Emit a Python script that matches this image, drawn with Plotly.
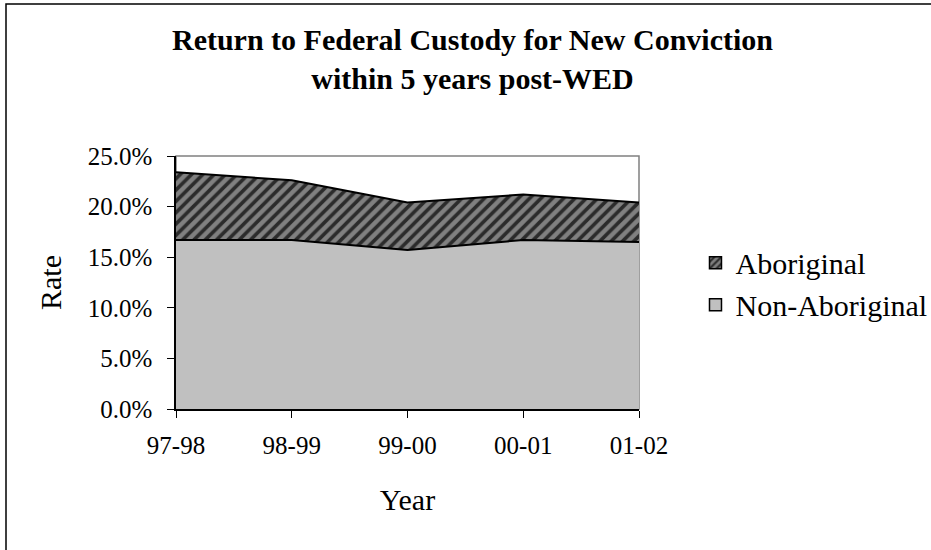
import plotly.graph_objects as go

years = ["97-98", "98-99", "99-00", "00-01", "01-02"]
aboriginal = [0.234, 0.226, 0.204, 0.212, 0.204]
non_aboriginal = [0.167, 0.167, 0.157, 0.167, 0.165]
y_ticks = [0, 0.05, 0.10, 0.15, 0.20, 0.25]

xpos = list(range(len(years)))
FONT = "Liberation Serif"
pattern = dict(shape="/", bgcolor="#808080", fgcolor="#2b2b2b", size=8, solidity=0.45, fillmode="replace")

fig = go.Figure()
fig.add_trace(go.Scatter(
    x=xpos, y=aboriginal, mode="lines", fill="tozeroy", name="Aboriginal",
    line=dict(color="black", width=2), fillpattern=pattern, showlegend=False))
fig.add_trace(go.Scatter(
    x=xpos, y=non_aboriginal, mode="lines", fill="tozeroy", name="Non-Aboriginal",
    line=dict(color="black", width=2), fillcolor="#c0c0c0", showlegend=False))
# legend entries (square swatches)
fig.add_trace(go.Bar(x=[None], y=[None], name="Aboriginal", legendgroup="a",
                     marker=dict(color="#808080", line=dict(color="black", width=1.5),
                                 pattern=dict(shape="/", bgcolor="#808080", fgcolor="#2b2b2b", size=6, solidity=0.45, fillmode="replace"))))
fig.add_trace(go.Bar(x=[None], y=[None], name="Non-Aboriginal", legendgroup="b",
                     marker=dict(color="#c0c0c0", line=dict(color="black", width=1.5))))

fig.update_layout(
    width=931, height=550,
    margin=dict(l=176, r=292, t=156, b=141, autoexpand=False),
    paper_bgcolor="white", plot_bgcolor="white",
    font=dict(family=FONT, color="black"),
    title=dict(text="<b>Return to Federal Custody for New Conviction<br>within 5 years post-WED</b>",
               x=472.5 / 931, xanchor="center", y=1 - 50 / 550, yanchor="middle", yref="container",
               font=dict(family=FONT, size=30, color="black")),
    showlegend=True,
    legend=dict(x=1.122, xanchor="left", y=0.495, yanchor="middle", font=dict(family=FONT, size=30),
                bgcolor="rgba(0,0,0,0)", tracegroupgap=0, itemclick=False),
    xaxis=dict(range=[0, 4], tickvals=xpos, ticktext=years, showgrid=False, zeroline=False,
               showline=True, linecolor="black", linewidth=1.5, ticks="outside", ticklen=7,
               tickcolor="black", tickfont=dict(size=25), ticklabelstandoff=6,
               title=dict(text="Year", font=dict(size=30), standoff=31)),
    yaxis=dict(range=[0, 0.25], tickvals=y_ticks, tickformat=".1%", showgrid=False, zeroline=False,
               showline=True, linecolor="black", linewidth=1.5, ticks="outside", ticklen=7,
               tickcolor="black", tickfont=dict(size=25), ticklabelstandoff=10,
               title=dict(text="Rate", font=dict(size=30), standoff=17)),
    shapes=[
        dict(type="rect", xref="paper", yref="paper", x0=0, x1=1, y0=0, y1=1,
             line=dict(color="#808080", width=1.5), layer="below"),
        dict(type="rect", xref="paper", yref="paper", x0=-170 / 463, x1=1 + 330 / 463,
             y0=-160 / 253, y1=1 + 152 / 253, line=dict(color="black", width=1.5), layer="below"),
    ],
)

fig.write_html("out.html", config={"displayModeBar": False},
               post_script="document.body.style.margin='0';document.body.style.overflow='hidden';")
